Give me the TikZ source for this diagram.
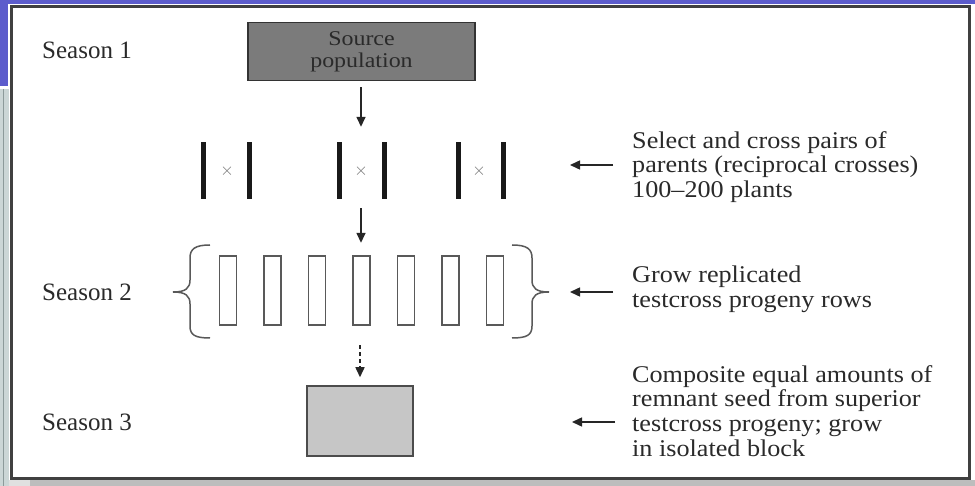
\documentclass[tikz,border=0pt]{standalone}
\usepackage{fontspec}
\setmainfont{Liberation Serif}
\newfontfamily\widefont[Ligatures=TeX,FakeStretch=1.09]{Liberation Serif}
\newfontfamily\boxfont[Ligatures=TeX,FakeStretch=1.14]{Liberation Serif}
\usetikzlibrary{arrows.meta}

\definecolor{slideblue}{HTML}{5C5CCC}
\definecolor{sidestrip}{HTML}{CBD6D6}
\definecolor{sideline}{HTML}{8C9A9A}
\definecolor{frameline}{HTML}{404040}
\definecolor{shadowgray}{HTML}{BDBDBD}
\definecolor{srcfill}{HTML}{7B7B7B}
\definecolor{blockfill}{HTML}{C6C6C6}
\definecolor{inkgray}{HTML}{2A2A2A}

\tikzset{
  season/.style={anchor=west, inner sep=0pt, text=inkgray,
    font=\fontsize{25}{25}\selectfont},
  note/.style={anchor=west, inner sep=0pt, align=left, text=inkgray,
    font=\widefont\fontsize{24}{24.7}\selectfont},
  arr/.style={-{Triangle[length=10pt,width=9pt]}, line width=1.5pt, draw=black!85},
  bar/.style={fill=black!90, inner sep=0pt, minimum width=5pt, minimum height=57pt},
  crossmark/.style={inner sep=0pt, text=black!55, font=\fontsize{18}{18}\selectfont},
  row/.style={draw=black!65, line width=1.4pt, fill=white, inner sep=0pt,
    minimum width=17pt, minimum height=69pt},
  holder/.style={inner sep=0pt},
  bracepath/.style={draw=black!65, line width=1.5pt},
}

\begin{document}
\begin{tikzpicture}[x=1pt, y=-1pt, font=\fontsize{24}{24}\selectfont]
\useasboundingbox (0,0) rectangle (975,486);

% slide background around the figure
\fill[slideblue] (0,0) rectangle (975,4);
\fill[slideblue] (0,0) rectangle (8,86);
\fill[sidestrip] (0,89) rectangle (9,486);
\draw[sideline, line width=1pt] (3.5,89) -- (3.5,486);
\fill[black!12] (9,480) rectangle (30,486);
\fill[shadowgray] (30,480) rectangle (975,486);
\draw[frameline, line width=3pt, fill=white] (11.5,6.5) rectangle (969,478);

% season labels
\node[season] (s1) at (42,50) {Season 1};
\node[season] (s2) at (42,292) {Season 2};
\node[season] (s3) at (42,422) {Season 3};

% source population
\node[draw=black!80, line width=1.5pt, fill=srcfill, align=center, text=inkgray,
  minimum width=227pt, minimum height=58pt, inner sep=0pt,
  font=\boxfont\fontsize{21}{22}\selectfont] (src) at (361.5,51.5) {Source\\population};

% crossed pairs of parents
\node[holder, minimum width=52pt, minimum height=58pt] (pair1) at (226,171) {};
\node[holder, minimum width=52pt, minimum height=58pt] (pair2) at (361,171) {};
\node[holder, minimum width=52pt, minimum height=58pt] (pair3) at (480,171) {};
\node[bar] (p1a) at (203,171) {};
\node[bar] (p1b) at (249,171) {};
\node[crossmark] (p1x) at (227,171) {$\times$};
\node[bar] (p2a) at (339,171) {};
\node[bar] (p2b) at (384,171) {};
\node[crossmark] (p2x) at (361,171) {$\times$};
\node[bar] (p3a) at (458,171) {};
\node[bar] (p3b) at (503,171) {};
\node[crossmark] (p3x) at (479,171) {$\times$};

% testcross progeny rows
\node[holder, minimum width=376pt, minimum height=93pt] (rows) at (361,291.5) {};
\foreach \i in {0,...,6} {
  \node[row] (r\i) at ({228+44.5*\i},290.5) {};
}
\draw[bracepath] (210,245) .. controls (195,245) and (190,249) .. (190,258)
  -- (190,280) .. controls (190,288) and (186,292) .. (173,292)
  .. controls (186,292) and (190,296) .. (190,304)
  -- (190,326) .. controls (190,335) and (195,338) .. (210,338);
\draw[bracepath] (512,245) .. controls (527,245) and (532,249) .. (532,258)
  -- (532,280) .. controls (532,288) and (536,292) .. (549,292)
  .. controls (536,292) and (532,296) .. (532,304)
  -- (532,326) .. controls (532,335) and (527,338) .. (512,338);

% composite isolated block
\node[draw=black!70, line width=1.5pt, fill=blockfill, inner sep=0pt,
  minimum width=106pt, minimum height=70pt] (comp) at (360,421) {};

% flow arrows
\draw[arr, shorten <=6pt, shorten >=15pt] (src.south -| pair2) -- (pair2.north);
\draw[arr, shorten <=8pt, shorten >=2pt] (pair2.south) -- (rows.north -| pair2);
\draw[arr, dash pattern=on 4pt off 3pt, shorten <=7pt, shorten >=8pt]
  (rows.south -| comp) -- (comp.north);

% notes on the right
\node[note] (n1) at (632,167) {Select and cross pairs of\\parents (reciprocal crosses)\\100–200 plants};
\node[note] (n2) at (632,289.5) {Grow replicated\\testcross progeny rows};
\node[note] (n3) at (632,411) {Composite equal amounts of\\remnant seed from superior\\testcross progeny; grow\\in isolated block};

\coordinate (e1) at (613,165);
\coordinate (t1) at (570,165);
\coordinate (e2) at (613,292);
\coordinate (t2) at (570,292);
\coordinate (e3) at (615,422);
\coordinate (t3) at (572,422);
\draw[arr] (e1) -- (t1);
\draw[arr] (e2) -- (t2);
\draw[arr] (e3) -- (t3);
\end{tikzpicture}
\end{document}
